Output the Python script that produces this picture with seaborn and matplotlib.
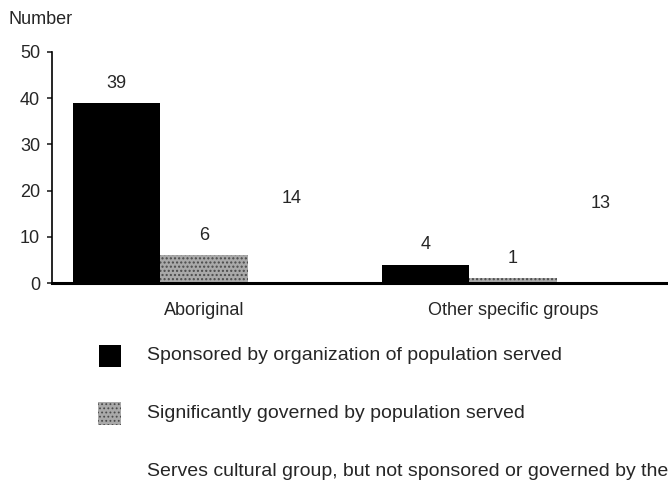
import pandas as pd
import seaborn as sns
import matplotlib.pyplot as plt
from matplotlib.patches import Rectangle

groups = ["Aboriginal", "Other specific groups"]
series = [
    "Sponsored by organization of population served",
    "Significantly governed by population served",
    "Serves cultural group, but not sponsored or governed by them",
]
sponsored = [39, 4]
governed = [6, 1]
serves = [14, 13]
y_ticks = [0, 10, 20, 30, 40, 50]

W, H = 668, 484


def fx(px):
    return px / W


def fy(py):
    return 1 - py / H


df = pd.DataFrame({
    "group": groups * 3,
    "series": [s for s in series for _ in groups],
    "value": sponsored + governed + serves,
})

sns.set_style("white")
plt.rcParams["font.family"] = ["Liberation Sans", "DejaVu Sans"]

fig = plt.figure(figsize=(W / 100, H / 100), dpi=100)
ax = fig.add_axes([fx(52), fy(283), fx(714 - 52), 231 / H])

colors = ["#000000", "#a9a9a9", "#ffffff"]
sns.barplot(data=df, x="group", y="value", hue="series", hue_order=series,
            palette=colors, width=0.85, saturation=1, legend=False, ax=ax,
            linewidth=0)

for bar in ax.containers[1]:
    bar.set_hatch("....")
    bar.set_edgecolor("#4a4a4a")
plt.rcParams["hatch.linewidth"] = 0.8

for cont in ax.containers:
    ax.bar_label(cont, padding=8, fontsize=13)

ax.set_ylim(0, 50)
ax.set_xlim(-0.492, 1.65)
ax.set_yticks(y_ticks)
ax.set_xlabel("")
ax.set_ylabel("")
sns.despine(ax=ax, top=True, right=True)
ax.spines["left"].set_linewidth(1.2)
ax.spines["bottom"].set_linewidth(2.2)
ax.spines["left"].set_color("black")
ax.spines["bottom"].set_color("black")
ax.tick_params(axis="y", length=3.5, width=1.2, pad=5, labelsize=13, left=True)
ax.tick_params(axis="x", length=0, pad=14, labelsize=13)

fig.text(fx(9), fy(19), "Number", fontsize=13, va="center", ha="left")

# legend
fig.add_artist(Rectangle((fx(99), fy(367)), fx(22), 22 / H,
                         transform=fig.transFigure, facecolor="black",
                         edgecolor="none"))
fig.add_artist(Rectangle((fx(98), fy(425)), fx(23), 23 / H,
                         transform=fig.transFigure, facecolor="#a9a9a9",
                         edgecolor="#4a4a4a", hatch="....", linewidth=0))
label_y = [356, 413, 472]
for s, yy in zip(series, label_y):
    fig.text(fx(147), fy(yy), s, fontsize=14, va="center", ha="left")

fig.savefig("out.png", dpi=100)
